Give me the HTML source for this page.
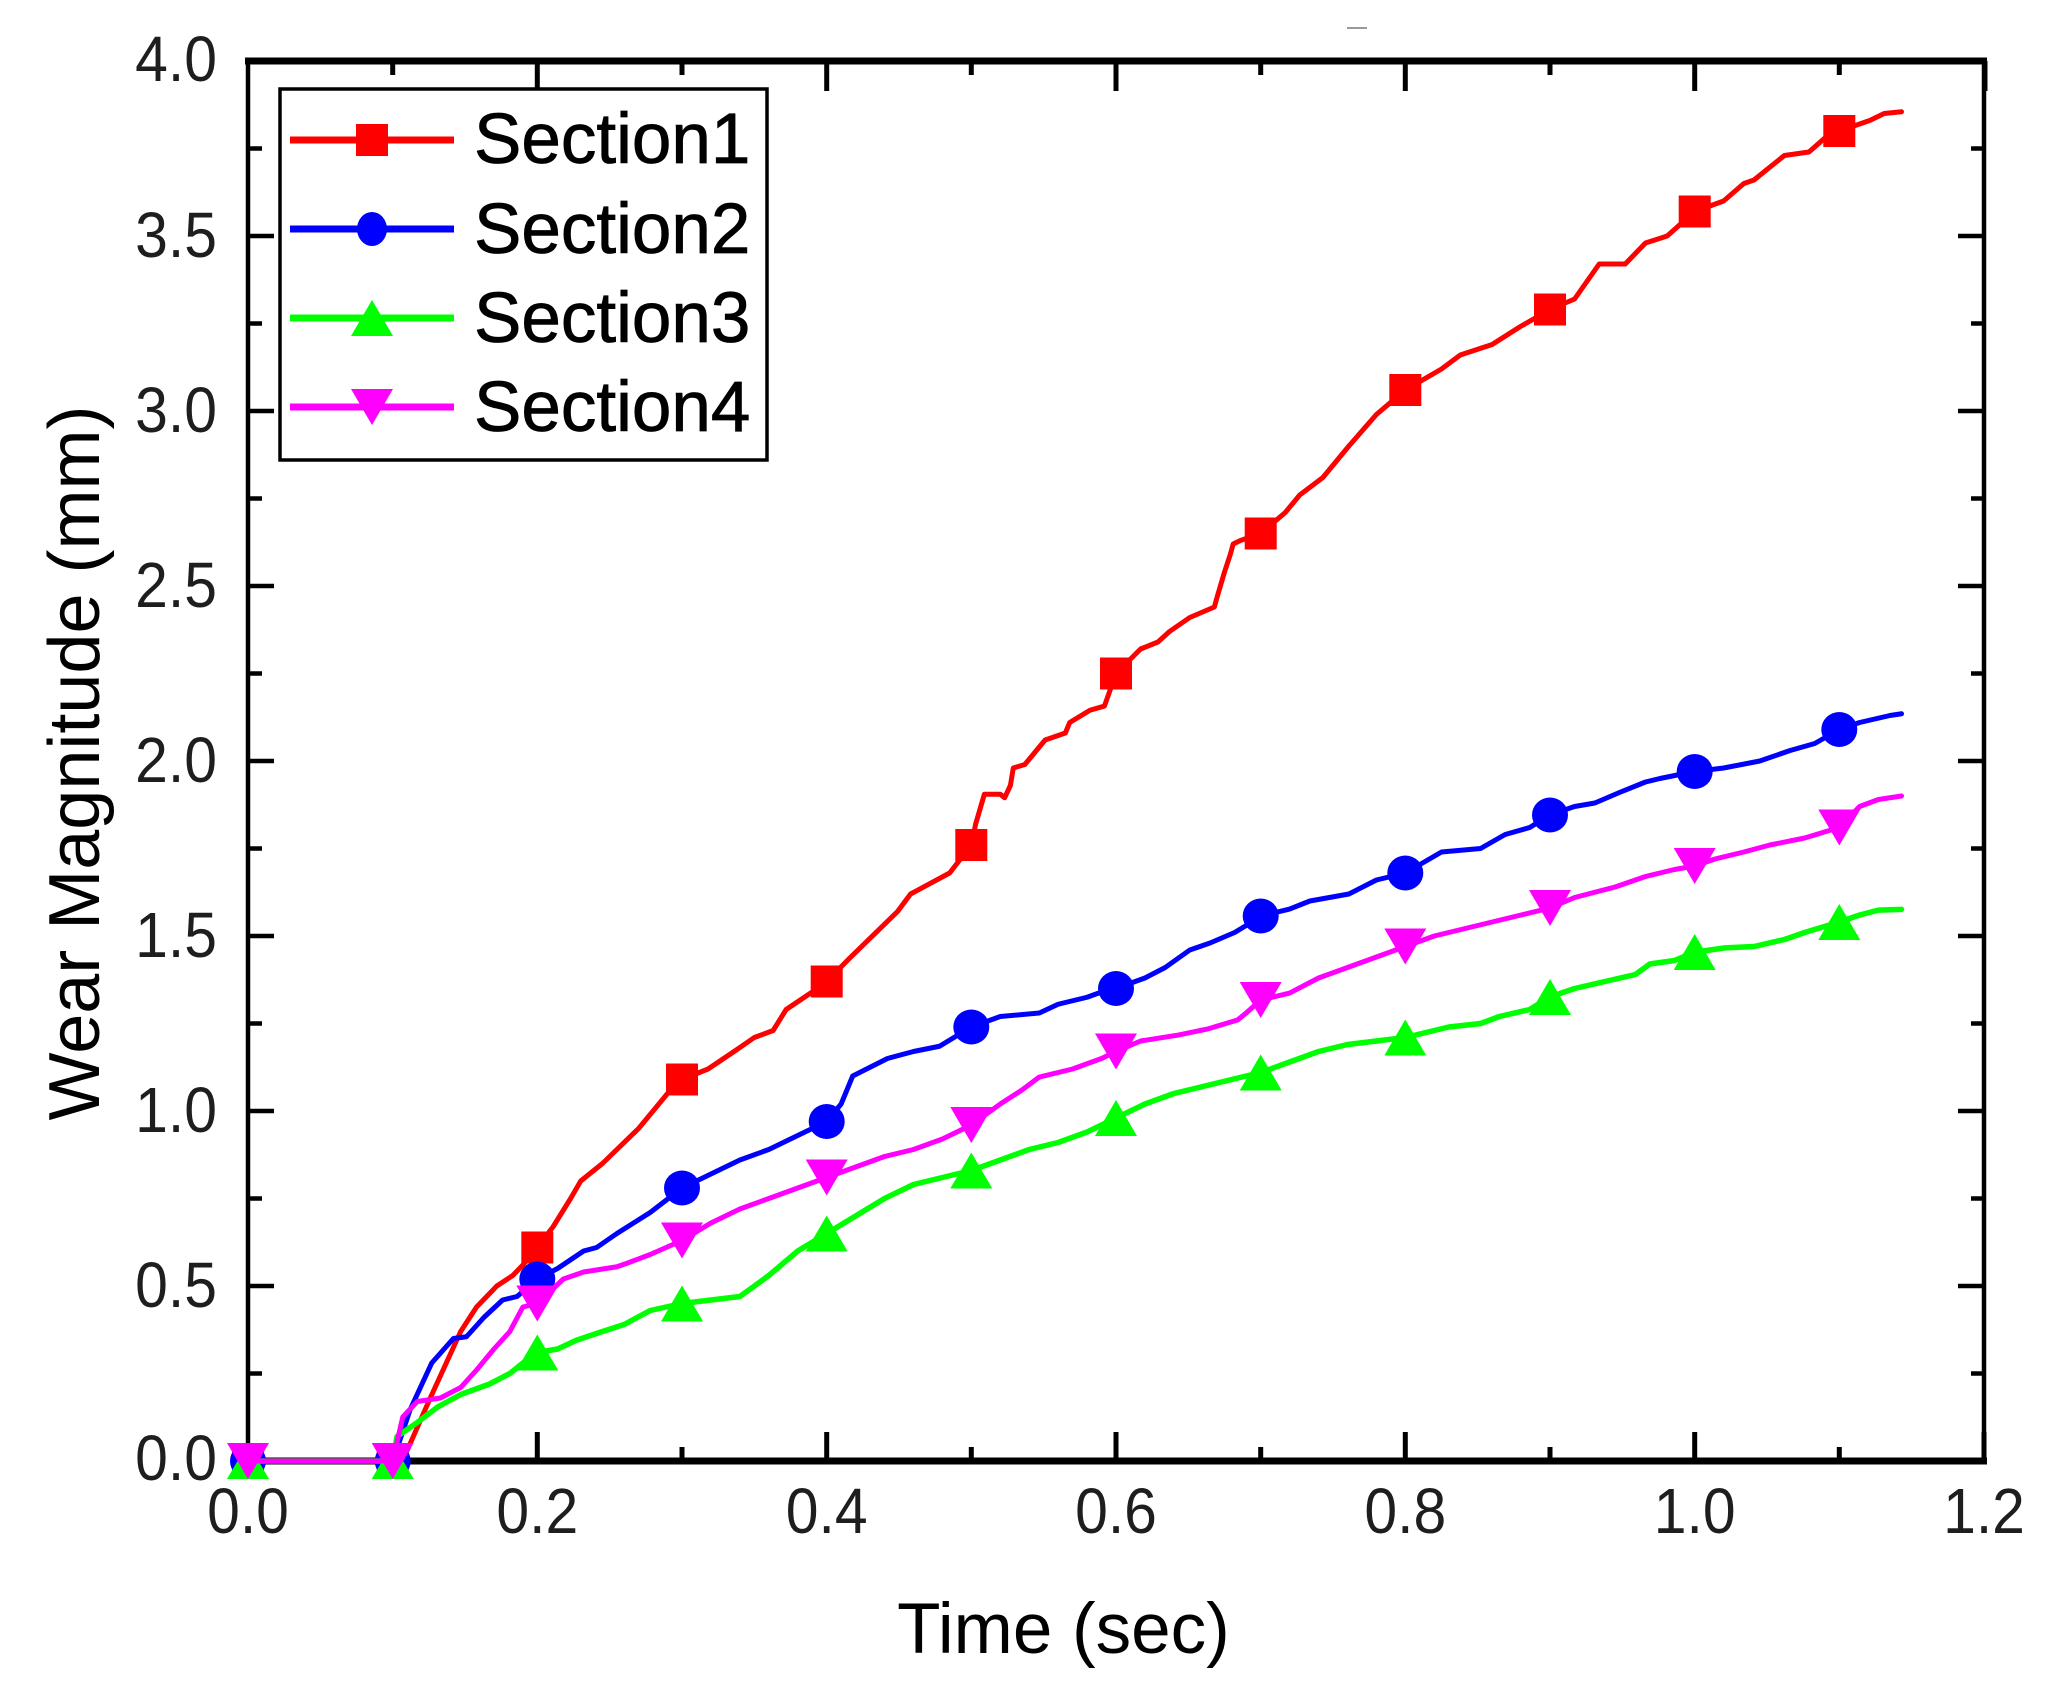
<!DOCTYPE html>
<html>
<head>
<meta charset="utf-8">
<style>
  html,body{margin:0;padding:0;background:#fff;}
  svg{display:block;}
  text{font-family:"Liberation Sans", Arial, sans-serif;}
</style>
</head>
<body>
<svg width="2056" height="1689" viewBox="0 0 2056 1689" xmlns="http://www.w3.org/2000/svg">
  <rect x="0" y="0" width="2056" height="1689" fill="#fff"/>

  <!-- small gray dash at top -->
  <line x1="1347" y1="28" x2="1367" y2="28" stroke="#999" stroke-width="2"/>

  <!-- axes frame -->
  <g stroke="#000" fill="none">
    <line x1="245" y1="61" x2="1987" y2="61" stroke-width="7"/>
    <line x1="245" y1="1461" x2="1987" y2="1461" stroke-width="7"/>
    <line x1="248" y1="61" x2="248" y2="1461" stroke-width="4.5"/>
    <line x1="1984" y1="61" x2="1984" y2="1461" stroke-width="4.5"/>
  </g>

  <!-- ticks -->
  <g stroke="#000" stroke-width="5">
    <!-- bottom major -->
    <line x1="537.3" y1="1461" x2="537.3" y2="1432"/>
    <line x1="826.7" y1="1461" x2="826.7" y2="1432"/>
    <line x1="1116" y1="1461" x2="1116" y2="1432"/>
    <line x1="1405.3" y1="1461" x2="1405.3" y2="1432"/>
    <line x1="1694.7" y1="1461" x2="1694.7" y2="1432"/>
    <line x1="1984" y1="1461" x2="1984" y2="1432"/>
    <!-- bottom minor -->
    <line x1="392.7" y1="1461" x2="392.7" y2="1447"/>
    <line x1="682" y1="1461" x2="682" y2="1447"/>
    <line x1="971.3" y1="1461" x2="971.3" y2="1447"/>
    <line x1="1260.7" y1="1461" x2="1260.7" y2="1447"/>
    <line x1="1550" y1="1461" x2="1550" y2="1447"/>
    <line x1="1839.3" y1="1461" x2="1839.3" y2="1447"/>
    <!-- top major -->
    <line x1="537.3" y1="61" x2="537.3" y2="91"/>
    <line x1="826.7" y1="61" x2="826.7" y2="91"/>
    <line x1="1116" y1="61" x2="1116" y2="91"/>
    <line x1="1405.3" y1="61" x2="1405.3" y2="91"/>
    <line x1="1694.7" y1="61" x2="1694.7" y2="91"/>
    <line x1="1985" y1="61" x2="1985" y2="91"/>
    <!-- top minor -->
    <line x1="392.7" y1="61" x2="392.7" y2="75"/>
    <line x1="682" y1="61" x2="682" y2="75"/>
    <line x1="971.3" y1="61" x2="971.3" y2="75"/>
    <line x1="1260.7" y1="61" x2="1260.7" y2="75"/>
    <line x1="1550" y1="61" x2="1550" y2="75"/>
    <line x1="1839.3" y1="61" x2="1839.3" y2="75"/>
  </g>
  <g stroke="#000" stroke-width="4.5">
    <!-- left major -->
    <line x1="248" y1="1286" x2="274" y2="1286"/>
    <line x1="248" y1="1111" x2="274" y2="1111"/>
    <line x1="248" y1="936" x2="274" y2="936"/>
    <line x1="248" y1="761" x2="274" y2="761"/>
    <line x1="248" y1="586" x2="274" y2="586"/>
    <line x1="248" y1="411" x2="274" y2="411"/>
    <line x1="248" y1="236" x2="274" y2="236"/>
    <!-- left minor -->
    <line x1="248" y1="1373.5" x2="262" y2="1373.5"/>
    <line x1="248" y1="1198.5" x2="262" y2="1198.5"/>
    <line x1="248" y1="1023.5" x2="262" y2="1023.5"/>
    <line x1="248" y1="848.5" x2="262" y2="848.5"/>
    <line x1="248" y1="673.5" x2="262" y2="673.5"/>
    <line x1="248" y1="498.5" x2="262" y2="498.5"/>
    <line x1="248" y1="323.5" x2="262" y2="323.5"/>
    <line x1="248" y1="148.5" x2="262" y2="148.5"/>
    <!-- right major -->
    <line x1="1984" y1="1286" x2="1958" y2="1286"/>
    <line x1="1984" y1="1111" x2="1958" y2="1111"/>
    <line x1="1984" y1="936" x2="1958" y2="936"/>
    <line x1="1984" y1="761" x2="1958" y2="761"/>
    <line x1="1984" y1="586" x2="1958" y2="586"/>
    <line x1="1984" y1="411" x2="1958" y2="411"/>
    <line x1="1984" y1="236" x2="1958" y2="236"/>
    <!-- right minor -->
    <line x1="1984" y1="1373.5" x2="1971" y2="1373.5"/>
    <line x1="1984" y1="1198.5" x2="1971" y2="1198.5"/>
    <line x1="1984" y1="1023.5" x2="1971" y2="1023.5"/>
    <line x1="1984" y1="848.5" x2="1971" y2="848.5"/>
    <line x1="1984" y1="673.5" x2="1971" y2="673.5"/>
    <line x1="1984" y1="498.5" x2="1971" y2="498.5"/>
    <line x1="1984" y1="323.5" x2="1971" y2="323.5"/>
    <line x1="1984" y1="148.5" x2="1971" y2="148.5"/>
  </g>

  <!-- y tick labels -->
  <g font-size="64" fill="#1e1e1e" text-anchor="end">
    <text transform="translate(217,1480) scale(0.92,1)">0.0</text>
    <text transform="translate(217,1307) scale(0.92,1)">0.5</text>
    <text transform="translate(217,1132) scale(0.92,1)">1.0</text>
    <text transform="translate(217,957) scale(0.92,1)">1.5</text>
    <text transform="translate(217,782) scale(0.92,1)">2.0</text>
    <text transform="translate(217,607) scale(0.92,1)">2.5</text>
    <text transform="translate(217,432) scale(0.92,1)">3.0</text>
    <text transform="translate(217,257) scale(0.92,1)">3.5</text>
    <text transform="translate(217,81) scale(0.92,1)">4.0</text>
  </g>
  <!-- x tick labels -->
  <g font-size="64" fill="#1e1e1e" text-anchor="middle">
    <text transform="translate(248,1533) scale(0.92,1)">0.0</text>
    <text transform="translate(537.3,1533) scale(0.92,1)">0.2</text>
    <text transform="translate(826.7,1533) scale(0.92,1)">0.4</text>
    <text transform="translate(1116,1533) scale(0.92,1)">0.6</text>
    <text transform="translate(1405.3,1533) scale(0.92,1)">0.8</text>
    <text transform="translate(1694.7,1533) scale(0.92,1)">1.0</text>
    <text transform="translate(1984,1533) scale(0.92,1)">1.2</text>
  </g>

  <!-- axis titles -->
  <text x="1063.5" y="1653" font-size="71" fill="#000" text-anchor="middle">Time (sec)</text>
  <text transform="translate(99,763) rotate(-90)" font-size="72" fill="#000" text-anchor="middle">Wear Magnitude (mm)</text>

  <!-- SERIES: Section1 (red) -->
  <g transform="translate(248 1461) scale(1446.67 -350)" fill="none" stroke-linejoin="round" stroke-linecap="round">
    <polyline stroke="#ff0000" stroke-width="5" vector-effect="non-scaling-stroke" points="0,0 0.1,0 0.11,0.03 0.126,0.18 0.147,0.37 0.158,0.44 0.172,0.50 0.183,0.53 0.19,0.56 0.2,0.61 0.211,0.67 0.223,0.75 0.23,0.80 0.245,0.85 0.255,0.89 0.27,0.95 0.28,1.0 0.29,1.05 0.3,1.09 0.318,1.12 0.336,1.17 0.35,1.21 0.363,1.23 0.372,1.29 0.39,1.34 0.4,1.37 0.416,1.437 0.449,1.57 0.458,1.62 0.485,1.68 0.5,1.76 0.503,1.82 0.509,1.905 0.52,1.905 0.523,1.895 0.527,1.93 0.529,1.98 0.537,1.99 0.547,2.04 0.551,2.06 0.565,2.08 0.568,2.11 0.582,2.145 0.592,2.157 0.6,2.25 0.617,2.32 0.629,2.34 0.637,2.37 0.651,2.41 0.668,2.44 0.67,2.47 0.675,2.54 0.679,2.59 0.681,2.62 0.686,2.63 0.7,2.65 0.717,2.71 0.727,2.76 0.743,2.81 0.761,2.9 0.78,2.99 0.8,3.06 0.825,3.12 0.838,3.16 0.86,3.19 0.879,3.24 0.9,3.29 0.917,3.32 0.934,3.42 0.952,3.42 0.966,3.48 0.981,3.5 1.0,3.57 1.02,3.6 1.034,3.65 1.041,3.66 1.062,3.73 1.079,3.74 1.09,3.78 1.1,3.80 1.121,3.83 1.131,3.85 1.143,3.855"/>
  </g>
  <g fill="#ff0000">
    <rect x="232" y="1445" width="32" height="32"/>
    <rect x="376.7" y="1445" width="32" height="32"/>
    <rect x="521.3" y="1231.5" width="32" height="32"/>
    <rect x="666" y="1063.5" width="32" height="32"/>
    <rect x="810.7" y="965.5" width="32" height="32"/>
    <rect x="955.3" y="829" width="32" height="32"/>
    <rect x="1100" y="657.5" width="32" height="32"/>
    <rect x="1244.7" y="517.5" width="32" height="32"/>
    <rect x="1389.3" y="374" width="32" height="32"/>
    <rect x="1534" y="293.5" width="32" height="32"/>
    <rect x="1678.7" y="195.5" width="32" height="32"/>
    <rect x="1823.3" y="115" width="32" height="32"/>
  </g>

  <!-- SERIES: Section2 (blue) -->
  <g transform="translate(248 1461) scale(1446.67 -350)" fill="none" stroke-linejoin="round" stroke-linecap="round">
    <polyline stroke="#0000ff" stroke-width="5" vector-effect="non-scaling-stroke" points="0,0 0.1,0 0.105,0.06 0.112,0.146 0.127,0.28 0.142,0.35 0.151,0.355 0.163,0.41 0.176,0.46 0.186,0.47 0.2,0.52 0.214,0.55 0.232,0.60 0.241,0.61 0.255,0.65 0.278,0.71 0.3,0.78 0.32,0.82 0.34,0.86 0.36,0.89 0.38,0.93 0.4,0.97 0.41,1.02 0.418,1.10 0.442,1.15 0.46,1.17 0.478,1.185 0.5,1.24 0.52,1.27 0.547,1.28 0.56,1.305 0.58,1.325 0.59,1.34 0.6,1.35 0.62,1.38 0.634,1.41 0.651,1.46 0.665,1.48 0.682,1.51 0.69,1.53 0.7,1.557 0.72,1.577 0.734,1.6 0.761,1.62 0.78,1.66 0.8,1.68 0.825,1.74 0.852,1.75 0.869,1.79 0.886,1.81 0.9,1.846 0.917,1.87 0.931,1.88 0.948,1.91 0.966,1.94 0.976,1.95 1.0,1.97 1.02,1.98 1.045,2.0 1.066,2.03 1.083,2.05 1.1,2.09 1.114,2.11 1.135,2.13 1.143,2.135"/>
  </g>
  <g fill="#0000ff">
    <ellipse cx="248" cy="1461" rx="18" ry="17.5"/>
    <ellipse cx="392.7" cy="1461" rx="18" ry="17.5"/>
    <ellipse cx="537.3" cy="1279" rx="18" ry="17.5"/>
    <ellipse cx="682" cy="1188" rx="18" ry="17.5"/>
    <ellipse cx="826.7" cy="1121.5" rx="18" ry="17.5"/>
    <ellipse cx="971.3" cy="1027" rx="18" ry="17.5"/>
    <ellipse cx="1116" cy="988.5" rx="18" ry="17.5"/>
    <ellipse cx="1260.7" cy="916" rx="18" ry="17.5"/>
    <ellipse cx="1405.3" cy="873" rx="18" ry="17.5"/>
    <ellipse cx="1550" cy="815" rx="18" ry="17.5"/>
    <ellipse cx="1694.7" cy="771.5" rx="18" ry="17.5"/>
    <ellipse cx="1839.3" cy="729.5" rx="18" ry="17.5"/>
  </g>

  <!-- SERIES: Section3 (green) -->
  <g transform="translate(248 1461) scale(1446.67 -350)" fill="none" stroke-linejoin="round" stroke-linecap="round">
    <polyline stroke="#00ff00" stroke-width="5.5" vector-effect="non-scaling-stroke" points="0,0 0.1,0 0.103,0.07 0.117,0.11 0.131,0.154 0.147,0.19 0.167,0.22 0.181,0.25 0.19,0.28 0.2,0.31 0.214,0.32 0.227,0.345 0.245,0.37 0.26,0.39 0.278,0.43 0.3,0.45 0.32,0.46 0.34,0.47 0.36,0.53 0.38,0.6 0.4,0.65 0.42,0.7 0.44,0.75 0.46,0.79 0.48,0.81 0.5,0.83 0.52,0.86 0.54,0.89 0.56,0.91 0.58,0.94 0.6,0.98 0.62,1.02 0.64,1.05 0.66,1.07 0.68,1.09 0.7,1.11 0.72,1.14 0.74,1.17 0.76,1.19 0.78,1.2 0.8,1.21 0.83,1.24 0.852,1.25 0.865,1.27 0.886,1.29 0.9,1.326 0.917,1.35 0.938,1.37 0.959,1.39 0.969,1.42 0.986,1.43 1.0,1.454 1.021,1.466 1.041,1.47 1.062,1.49 1.076,1.51 1.1,1.54 1.114,1.56 1.127,1.574 1.143,1.576"/>
  </g>
  <g fill="#00ff00">
    <polygon points="227,1479 269,1479 248,1443"/>
    <polygon points="371.7,1479 413.7,1479 392.7,1443"/>
    <polygon points="516.3,1370.5 558.3,1370.5 537.3,1334.5"/>
    <polygon points="661,1321.5 703,1321.5 682,1285.5"/>
    <polygon points="805.7,1251.5 847.7,1251.5 826.7,1215.5"/>
    <polygon points="950.3,1188.5 992.3,1188.5 971.3,1152.5"/>
    <polygon points="1095,1136 1137,1136 1116,1100"/>
    <polygon points="1239.7,1090.5 1281.7,1090.5 1260.7,1054.5"/>
    <polygon points="1384.3,1055.5 1426.3,1055.5 1405.3,1019.5"/>
    <polygon points="1529,1015 1571,1015 1550,979"/>
    <polygon points="1673.7,970 1715.7,970 1694.7,934"/>
    <polygon points="1818.3,940 1860.3,940 1839.3,904"/>
  </g>

  <!-- SERIES: Section4 (magenta) -->
  <g transform="translate(248 1461) scale(1446.67 -350)" fill="none" stroke-linejoin="round" stroke-linecap="round">
    <polyline stroke="#ff00ff" stroke-width="5" vector-effect="non-scaling-stroke" points="0,0 0.1,0 0.107,0.126 0.117,0.17 0.133,0.18 0.147,0.21 0.158,0.26 0.17,0.32 0.181,0.37 0.19,0.44 0.2,0.45 0.218,0.52 0.232,0.54 0.255,0.555 0.262,0.565 0.278,0.59 0.3,0.63 0.32,0.68 0.34,0.72 0.36,0.75 0.38,0.78 0.4,0.81 0.42,0.84 0.44,0.87 0.46,0.89 0.48,0.92 0.5,0.96 0.52,1.02 0.535,1.06 0.547,1.097 0.57,1.12 0.59,1.15 0.6,1.17 0.617,1.2 0.643,1.217 0.663,1.234 0.684,1.26 0.69,1.28 0.7,1.317 0.72,1.337 0.74,1.38 0.76,1.41 0.78,1.44 0.8,1.47 0.82,1.5 0.84,1.52 0.86,1.54 0.88,1.56 0.9,1.58 0.917,1.61 0.945,1.64 0.966,1.67 0.986,1.69 1.0,1.70 1.014,1.72 1.034,1.74 1.052,1.76 1.076,1.78 1.1,1.81 1.114,1.87 1.127,1.89 1.143,1.90"/>
  </g>
  <g fill="#ff00ff">
    <polygon points="227,1443 269,1443 248,1479"/>
    <polygon points="371.7,1443 413.7,1443 392.7,1479"/>
    <polygon points="516.3,1285.5 558.3,1285.5 537.3,1321.5"/>
    <polygon points="661,1222.5 703,1222.5 682,1258.5"/>
    <polygon points="805.7,1159.5 847.7,1159.5 826.7,1195.5"/>
    <polygon points="950.3,1107 992.3,1107 971.3,1143"/>
    <polygon points="1095,1033.5 1137,1033.5 1116,1069.5"/>
    <polygon points="1239.7,982 1281.7,982 1260.7,1018"/>
    <polygon points="1384.3,928.5 1426.3,928.5 1405.3,964.5"/>
    <polygon points="1529,890 1571,890 1550,926"/>
    <polygon points="1673.7,848 1715.7,848 1694.7,884"/>
    <polygon points="1818.3,809.5 1860.3,809.5 1839.3,845.5"/>
  </g>

  <!-- LEGEND -->
  <rect x="280" y="89" width="487" height="371" fill="#fff" stroke="#000" stroke-width="3.5"/>
  <g stroke-width="7" stroke-linecap="butt">
    <line x1="290" y1="140" x2="454" y2="140" stroke="#ff0000"/>
    <line x1="290" y1="229" x2="454" y2="229" stroke="#0000ff"/>
    <line x1="290" y1="318" x2="454" y2="318" stroke="#00ff00"/>
    <line x1="290" y1="407" x2="454" y2="407" stroke="#ff00ff"/>
  </g>
  <rect x="356" y="124" width="32" height="32" fill="#ff0000"/>
  <ellipse cx="372" cy="229" rx="15" ry="17" fill="#0000ff"/>
  <polygon points="351,336 393,336 372,300" fill="#00ff00"/>
  <polygon points="351,389 393,389 372,425" fill="#ff00ff"/>
  <g font-size="71" fill="#000" stroke="#000" stroke-width="0.8">
    <text x="474" y="163">Section1</text>
    <text x="474" y="253">Section2</text>
    <text x="474" y="342">Section3</text>
    <text x="474" y="431">Section4</text>
  </g>
</svg>
</body>
</html>
